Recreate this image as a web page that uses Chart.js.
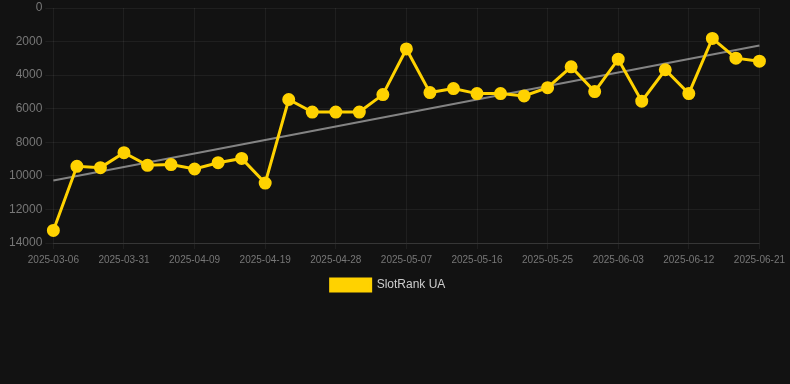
<!DOCTYPE html>
<html><head><meta charset="utf-8">
<script src="https://cdn.jsdelivr.net/npm/chart.js@4/dist/chart.umd.min.js"></script>
<style>html,body{margin:0;padding:0;background:#121212;}#wrap{width:790px;height:384px;position:relative;}</style>
</head><body><div id="wrap"><canvas id="c"></canvas></div>
<script>
const categories = ["2025-03-06","2025-03-22","2025-03-28","2025-03-31","2025-04-03","2025-04-06","2025-04-09","2025-04-12","2025-04-16","2025-04-19","2025-04-22","2025-04-25","2025-04-28","2025-05-01","2025-05-04","2025-05-07","2025-05-10","2025-05-13","2025-05-16","2025-05-19","2025-05-22","2025-05-25","2025-05-28","2025-05-31","2025-06-03","2025-06-06","2025-06-09","2025-06-12","2025-06-15","2025-06-18","2025-06-21"];
const rankValues = [13250,9430,9510,8620,9370,9330,9590,9215,8960,10430,5450,6200,6200,6200,5160,2440,5040,4800,5100,5100,5240,4745,3505,4980,3050,5550,3680,5100,1810,2990,3170];
const trendValues = [10280,null,null,null,null,null,null,null,null,null,null,null,null,null,null,null,null,null,null,null,null,null,null,null,null,null,null,null,null,null,2230];
const yTicks = [0,2000,4000,6000,8000,10000,12000,14000];
const seriesName = "SlotRank UA";

new Chart(document.getElementById('c'), {
  type: 'line',
  data: {
    labels: categories,
    datasets: [
      { label: seriesName, data: rankValues, borderColor: '#FFD200', backgroundColor: '#FFD200',
        borderWidth: 3, pointRadius: 5, pointHoverRadius: 5, tension: 0, order: 1 },
      { label: 'trend', data: trendValues, borderColor: 'rgba(160,160,160,0.8)', borderWidth: 2,
        pointRadius: 0, spanGaps: true, tension: 0, order: 2 }
    ]
  },
  options: {
    responsive: true, maintainAspectRatio: false, animation: false,
    layout: { padding: { left: 6, right: 20, top: 0, bottom: 83 } },
    plugins: {
      legend: { position: 'bottom', labels: { color: '#cccccc', boxWidth: 40, boxHeight: 12, padding: 8,
        font: { family: 'Arial, "Liberation Sans", sans-serif', size: 12 },
        filter: (item) => item.text === seriesName } },
      tooltip: { enabled: false }
    },
    scales: {
      x: {
        grid: { color: (ctx) => (ctx.index % 3 === 0 ? 'rgba(255,255,255,0.06)' : 'rgba(0,0,0,0)'), tickLength: 6 },
        border: { color: 'rgba(255,255,255,0.1)' },
        ticks: { color: '#777', autoSkip: false, maxRotation: 0, padding: 5,
          font: { family: 'Arial, "Liberation Sans", sans-serif', size: 10 },
          callback: function(v, i) { return i % 3 === 0 ? categories[i] : ''; } }
      },
      y: {
        reverse: true, min: 0, max: 14000,
        afterBuildTicks: (axis) => { axis.ticks = yTicks.map(v => ({ value: v })); },
        grid: { color: 'rgba(255,255,255,0.06)', tickLength: 8 },
        border: { display: false },
        ticks: { color: '#777', font: { family: 'Arial, "Liberation Sans", sans-serif', size: 12, lineHeight: 0.67 },
          callback: (v) => String(v) }
      }
    }
  }
});
</script></body></html>
